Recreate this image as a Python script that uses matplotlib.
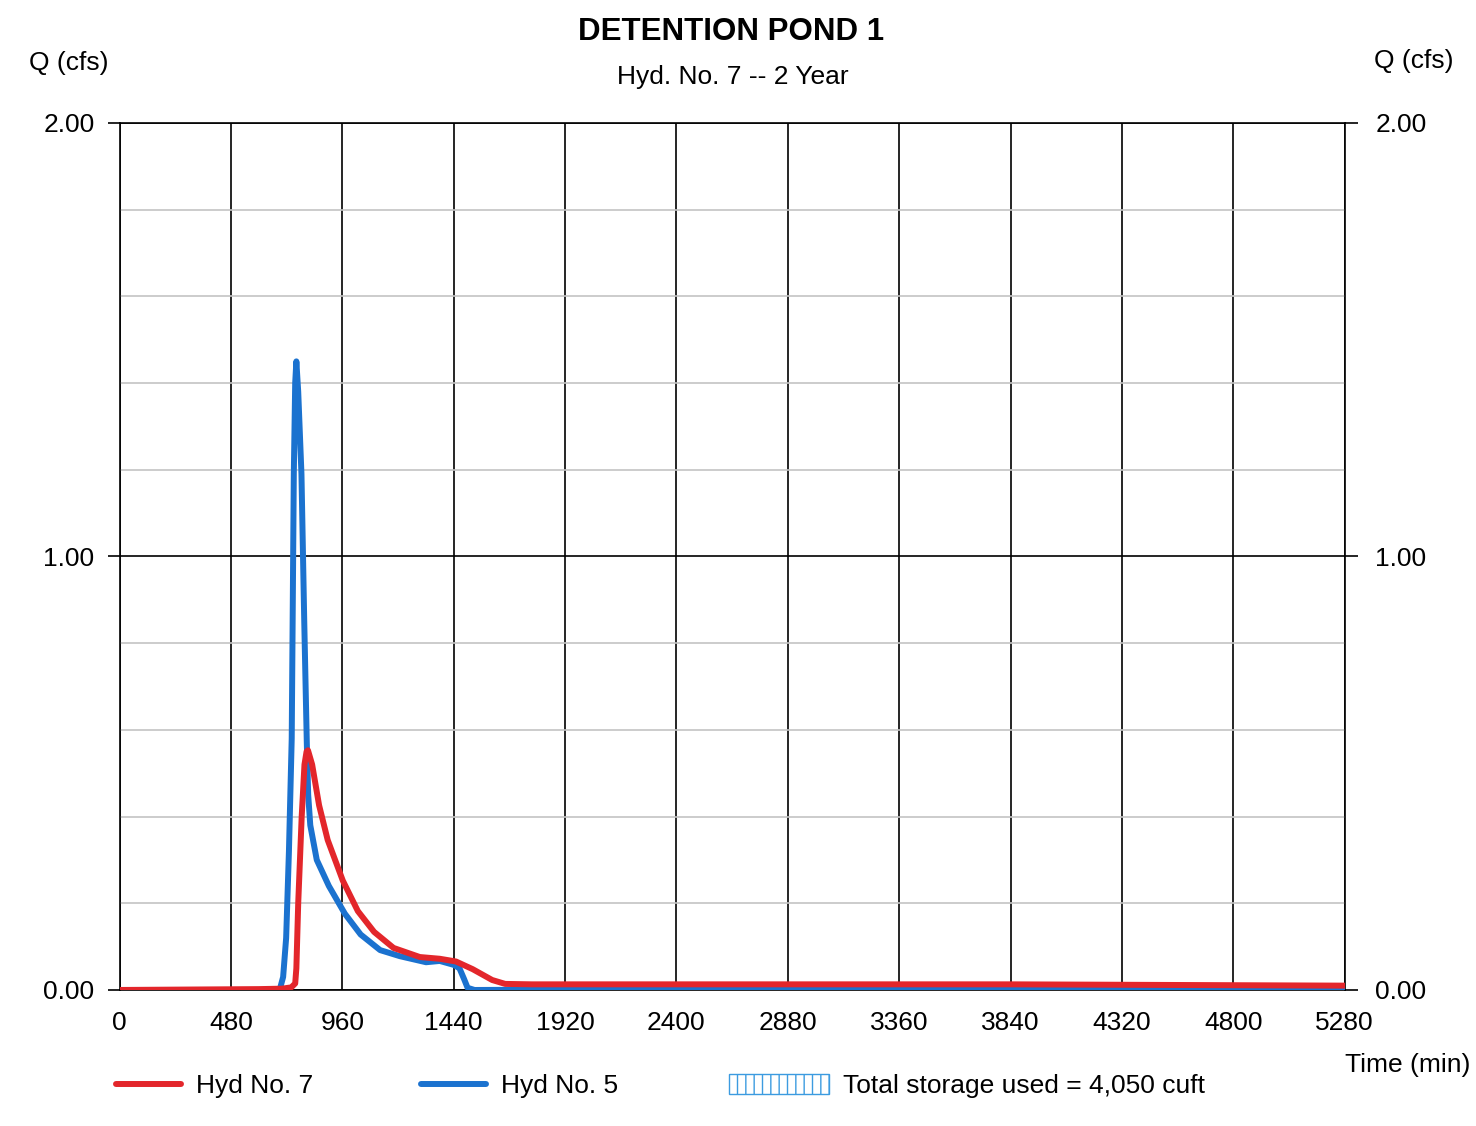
import matplotlib
matplotlib.use('Agg')
import matplotlib.pyplot as plt
from matplotlib.patches import Patch
from matplotlib.ticker import MultipleLocator
import numpy as np

plt.rcParams['font.family'] = ['Liberation Sans', 'DejaVu Sans']

##############################################################################################################################
# hydrograph data (time in min, flow in cfs)

# Hyd No. 5 -- inflow
hyd5_time = [0, 600, 690, 705, 718, 730, 742, 751, 757, 762, 770, 784, 796, 807, 813, 822,
             850, 902, 971, 1039, 1123, 1208, 1321, 1380, 1440, 1465, 1485, 1500, 1530, 2400, 3840, 5280]
hyd5_q = [0.0, 0.0, 0.0, 0.03, 0.12, 0.32, 0.58, 1.19, 1.40, 1.45, 1.38, 1.19, 0.85, 0.57, 0.45, 0.38,
          0.30, 0.24, 0.176, 0.128, 0.092, 0.078, 0.064, 0.067, 0.058, 0.05, 0.025, 0.005, 0.0, 0.002, 0.003, 0.004]

# Hyd No. 7 -- pond outflow
hyd7_time = [0, 600, 700, 740, 757, 762, 770, 785, 797, 806, 812, 830, 860, 897, 962, 1027, 1097,
             1181, 1294, 1380, 1450, 1522, 1606, 1662, 1778, 2880, 3840, 5280]
hyd7_q = [0.0, 0.002, 0.003, 0.006, 0.015, 0.05, 0.2, 0.4, 0.52, 0.55, 0.553, 0.52, 0.426, 0.346, 0.2525, 0.182, 0.134,
          0.097, 0.076, 0.072, 0.0657, 0.048, 0.023, 0.014, 0.013, 0.013, 0.013, 0.01]

storage_cuft = 4050
time_ticks = np.arange(0, 5281, 480)
q_ticks = [0.0, 1.0, 2.0]

red = '#e3262b'
blue = '#1b72cf'

##############################################################################################################################
# plot

fig = plt.figure(figsize=(14.76, 11.26), dpi=100)
ax = fig.add_axes([0.081, 0.1208, 0.830, 0.770])

ax.plot(hyd5_time, hyd5_q, color=blue, lw=4.3, solid_joinstyle='round', solid_capstyle='round',
        label='Hyd No. 5', zorder=3)
ax.plot(hyd7_time, hyd7_q, color=red, lw=4.3, solid_joinstyle='round', solid_capstyle='round',
        label='Hyd No. 7', zorder=4)

ax.set_xlim(0, 5280)
ax.set_ylim(0, 2)
ax.set_xticks(time_ticks)
ax.set_yticks(q_ticks)
ax.yaxis.set_minor_locator(MultipleLocator(0.2))
ax.set_yticklabels(['%.2f' % v for v in q_ticks])

# grid: black verticals, grey minor horizontals, black major horizontals
ax.grid(axis='x', color='black', lw=1.2)
ax.grid(axis='y', which='major', color='black', lw=1.2)
ax.grid(axis='y', which='minor', color='#c4c4c4', lw=1.2)
ax.set_axisbelow(True)
for sp in ax.spines.values():
    sp.set_color('black')
    sp.set_linewidth(1.2)

ax.tick_params(axis='x', length=0, pad=15, labelsize=19)
ax.tick_params(axis='y', which='major', length=9, width=1.2, direction='out', pad=9, labelsize=19)
ax.tick_params(axis='y', which='minor', length=0)

# right hand axis
ax2 = ax.twinx()
ax2.set_ylim(0, 2)
ax2.set_yticks(q_ticks)
ax2.set_yticklabels(['%.2f' % v for v in q_ticks])
ax2.tick_params(axis='y', length=9, width=1.2, direction='out', pad=13, labelsize=19)
for sp in ax2.spines.values():
    sp.set_visible(False)

# labels
fig.text(731 / 1476, 1 - 32 / 1126, 'DETENTION POND 1', ha='center', va='center',
         fontsize=22.5, fontweight='bold')
fig.text(733 / 1476, 1 - 77 / 1126, 'Hyd. No. 7 -- 2 Year', ha='center', va='center', fontsize=19)
fig.text(69 / 1476, 1 - 63 / 1126, 'Q (cfs)', ha='center', va='center', fontsize=19)
fig.text(1414 / 1476, 1 - 61 / 1126, 'Q (cfs)', ha='center', va='center', fontsize=19)
fig.text(1345 / 1476, 1 - 1065 / 1126, 'Time (min)', ha='left', va='center', fontsize=19)

# legend
h5, h7 = ax.get_lines()
leg1 = fig.legend([h7, h5], ['Hyd No. 7', 'Hyd No. 5'], ncol=2, loc='center left',
                  bbox_to_anchor=(116 / 1476, 1 - 1086 / 1126), frameon=False, fontsize=19,
                  handlelength=2.46, handletextpad=0.57, columnspacing=4.1, borderpad=0, borderaxespad=0)
store = Patch(facecolor='white', edgecolor='#3c9be0', hatch='||', lw=1.0)
leg2 = fig.legend([store], ['Total storage used = {:,} cuft'.format(storage_cuft)], loc='center left',
                  bbox_to_anchor=(729 / 1476, 1 - 1086 / 1126), frameon=False, fontsize=19,
                  handlelength=3.8, handleheight=0.76, handletextpad=0.53, borderpad=0, borderaxespad=0)
plt.rcParams['hatch.color'] = '#3c9be0'

fig.savefig('out.png', dpi=100)
